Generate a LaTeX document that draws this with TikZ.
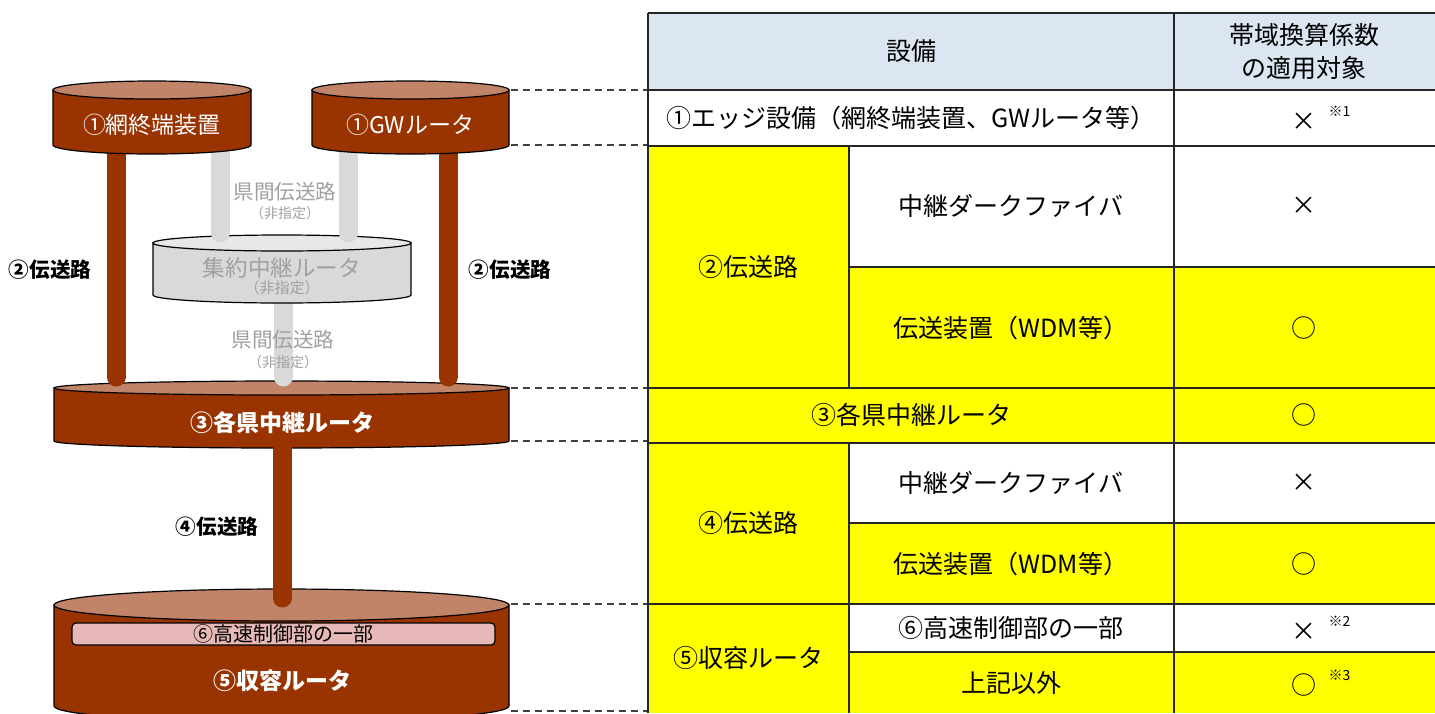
\documentclass[tikz,border=0pt]{standalone}
\usepackage{fontspec}
\setmainfont{Noto Sans CJK JP}
\usepackage{xcolor}
\usetikzlibrary{arrows.meta,positioning,calc}
\definecolor{brownbody}{RGB}{153,51,0}
\definecolor{browntop}{RGB}{194,132,104}
\definecolor{graybody}{RGB}{217,217,217}
\definecolor{graytop}{RGB}{232,232,232}
\definecolor{graytext}{RGB}{160,160,160}
\definecolor{pinkbar}{RGB}{230,185,184}
\definecolor{headblue}{RGB}{220,230,242}
\definecolor{celly}{RGB}{255,255,0}

\begin{document}
\begin{tikzpicture}[
  x=0.5pt,y=-0.5pt,
  drum/.style={draw=black,line width=0.6pt},
  pole/.style={line width=9.5pt,line cap=round,brownbody},
  gpole/.style={line width=9.5pt,line cap=round,graybody},
  wlabel/.style={text=white,font=\fontsize{11.5}{13}\selectfont},
  blabel/.style={font=\bfseries\fontsize{10.3}{12}\selectfont},
  glabel/.style={text=graytext,font=\fontsize{10.3}{12}\selectfont},
  gnote/.style={text=graytext,font=\fontsize{7}{8}\selectfont},
  cell/.style={font=\fontsize{12.5}{16.5}\selectfont,align=center},
  grid/.style={line width=1pt,black!85},
  guide/.style={line width=0.8pt,black!75,dash pattern=on 3.5pt off 2.5pt},
  >=Stealth
]
\useasboundingbox (0,0) rectangle (1435,713);

% Table fills
\fill[headblue] (648,13) rectangle (1435,90);
\fill[celly] (648,146) rectangle (1435,713);
\fill[white] (849,146) rectangle (1435,267);
\fill[white] (849,443) rectangle (1435,523);
\fill[white] (849,604) rectangle (1435,652);

% Table rules
\draw[grid] (648,13) -- (1435,13);
\draw[grid] (648,90) -- (1435,90);
\draw[grid] (648,146) -- (1435,146);
\draw[grid] (849,267) -- (1435,267);
\draw[grid] (648,388) -- (1435,388);
\draw[grid] (648,443) -- (1435,443);
\draw[grid] (849,523) -- (1435,523);
\draw[grid] (648,604) -- (1435,604);
\draw[grid] (849,652) -- (1435,652);
\draw[grid] (648,13) -- (648,713);
\draw[grid] (1174,13) -- (1174,713);
\draw[grid] (849,146) -- (849,388);
\draw[grid] (849,443) -- (849,713);

% Table cells
\node[cell] (hdev)  at (911,51)  {設備};
\node[cell] (hcoef) at (1304,51) {帯域換算係数\\の適用対象};
\node[cell] (edge)  at (911,118) {①エッジ設備（網終端装置、GWルータ等）};
\node[cell] (edgev) at (1304,118) {×\rlap{\hspace{6pt}\raisebox{7pt}{\fontsize{7}{7}\selectfont ※1}}};
\node[cell] (tr2)   at (748,267) {②伝送路};
\node[cell] (df2)   at (1011,206) {中継ダークファイバ};
\node[cell] (df2v)  at (1304,206) {×};
\node[cell] (wdm2)  at (1011,328) {伝送装置（WDM等）};
\node[cell] (wdm2v) at (1304,328) {○};
\node[cell] (pref)  at (911,415) {③各県中継ルータ};
\node[cell] (prefv) at (1304,415) {○};
\node[cell] (tr4)   at (748,523) {④伝送路};
\node[cell] (df4)   at (1011,483) {中継ダークファイバ};
\node[cell] (df4v)  at (1304,483) {×};
\node[cell] (wdm4)  at (1011,564) {伝送装置（WDM等）};
\node[cell] (wdm4v) at (1304,564) {○};
\node[cell] (acc)   at (748,658) {⑤収容ルータ};
\node[cell] (fast)  at (1011,628) {⑥高速制御部の一部};
\node[cell] (fastv) at (1304,628) {×\rlap{\hspace{6pt}\raisebox{7pt}{\fontsize{7}{7}\selectfont ※2}}};
\node[cell] (other) at (1011,683) {上記以外};
\node[cell] (otherv) at (1304,683) {○\rlap{\hspace{6pt}\raisebox{7pt}{\fontsize{7}{7}\selectfont ※3}}};

% Pole ends
\coordinate (ntB) at (116,145);
\coordinate (gwB) at (448,145);
\coordinate (ntG) at (220,145);
\coordinate (gwG) at (348,145);
\coordinate (aggT1) at (220,233);
\coordinate (aggT2) at (348,233);
\coordinate (aggB) at (283,295);
\coordinate (prefT1) at (116,377);
\coordinate (prefT2) at (448,377);
\coordinate (prefTG) at (283,377);
\coordinate (prefB) at (282,441);
\coordinate (accT) at (282,598);

% Accommodating router
\filldraw[drum,fill=brownbody] (54,605) -- (54,706) arc[start angle=180,end angle=0,x radius=227.5,y radius=16] -- (509,605) -- cycle;
\filldraw[drum,fill=browntop] (281.5,605) ellipse[x radius=227.5,y radius=16];
\node[draw=black,line width=0.6pt,fill=pinkbar,rounded corners=2pt,minimum width=211.5pt,minimum height=11pt,inner sep=0pt,font=\fontsize{10}{11}\selectfont] (hsc) at (283.5,634) {⑥高速制御部の一部};
\node[wlabel,font=\bfseries\fontsize{11.5}{13}\selectfont] (accl) at (282,681) {⑤収容ルータ};

% Prefecture relay router
\filldraw[drum,fill=brownbody] (54,388) -- (54,441) arc[start angle=180,end angle=0,x radius=227.5,y radius=7] -- (509,388) -- cycle;
\filldraw[drum,fill=browntop] (281.5,388) ellipse[x radius=227.5,y radius=7];
\node[wlabel,font=\bfseries\fontsize{11.5}{13}\selectfont] (prefl) at (282,423) {③各県中継ルータ};

% Transmission path 4
\draw[pole] (prefB) -- (accT);
\node[blabel] (tr4l) at (217,527) {④伝送路};

% Aggregation relay router (unspecified)
\draw[gpole] (aggB) -- (prefTG);
\filldraw[drum,fill=graybody] (153,243) -- (153,295) arc[start angle=180,end angle=0,x radius=129,y radius=8] -- (411,243) -- cycle;
\filldraw[drum,fill=graytop] (282,243) ellipse[x radius=129,y radius=8];
\node[glabel,font=\fontsize{11.3}{13}\selectfont] (aggl) at (282,268) {集約中継ルータ};
\node[gnote,font=\fontsize{7.5}{8}\selectfont] (aggn) at (282,288) {（非指定）};
\draw[gpole] (ntG) -- (aggT1);
\draw[gpole] (gwG) -- (aggT2);
\node[glabel] (kan1) at (285,192) {県間伝送路};
\node[gnote] (kan1n) at (285,213) {（非指定）};
\node[glabel] (kan2) at (283,340) {県間伝送路};
\node[gnote] (kan2n) at (283,362) {（非指定）};

% Transmission path 2
\draw[pole] (ntB) -- (prefT1);
\draw[pole] (gwB) -- (prefT2);
\node[blabel] (tr2a) at (50,270) {②伝送路};
\node[blabel] (tr2b) at (510,270) {②伝送路};

% Edge equipment
\filldraw[drum,fill=brownbody] (53,90) -- (53,145) arc[start angle=180,end angle=0,x radius=99,y radius=9] -- (251,90) -- cycle;
\filldraw[drum,fill=browntop] (152,90) ellipse[x radius=99,y radius=9];
\node[wlabel] (ntl) at (152,125) {①網終端装置};
\filldraw[drum,fill=brownbody] (312,90) -- (312,145) arc[start angle=180,end angle=0,x radius=98.5,y radius=9] -- (509,90) -- cycle;
\filldraw[drum,fill=browntop] (410.5,90) ellipse[x radius=98.5,y radius=9];
\node[wlabel] (gwl) at (410,125) {①GWルータ};

% Guide lines
\coordinate (d1a) at (511,90);   \coordinate (e1a) at (647,90);
\coordinate (d1b) at (511,145);  \coordinate (e1b) at (647,145);
\coordinate (d3a) at (511,388);  \coordinate (e3a) at (647,388);
\coordinate (d3b) at (511,441);  \coordinate (e3b) at (647,441);
\coordinate (d5a) at (511,604);  \coordinate (e5a) at (647,604);
\coordinate (d5b) at (511,711);  \coordinate (e5b) at (647,711);
\draw[guide] (d1a) -- (e1a);
\draw[guide] (d1b) -- (e1b);
\draw[guide] (d3a) -- (e3a);
\draw[guide] (d3b) -- (e3b);
\draw[guide] (d5a) -- (e5a);
\draw[guide] (d5b) -- (e5b);
\end{tikzpicture}
\end{document}
